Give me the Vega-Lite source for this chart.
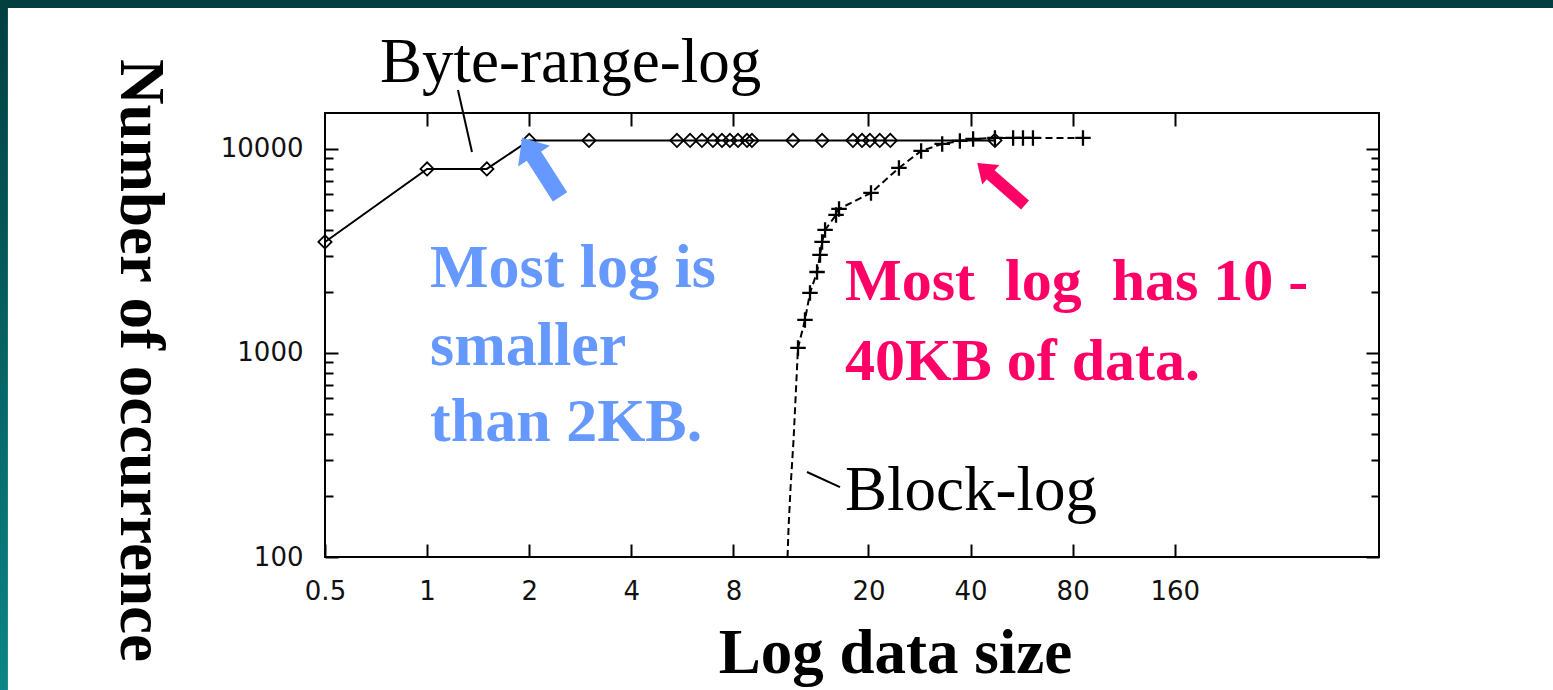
{
  "$schema": "https://vega.github.io/schema/vega-lite/v6.json",
  "width": 1054,
  "height": 444,
  "autosize": {"type": "none"},
  "padding": {"left": 325, "top": 113, "right": 174, "bottom": 133},
  "background": "white",
  "view": {"stroke": "black", "strokeWidth": 2, "fill": null},
  "resolve": {"axis": {"x": "independent", "y": "independent"}},
  "datasets": {
    "byte": [
      {"size": 0.5, "count": 3500}, {"size": 1, "count": 7980}, {"size": 1.5, "count": 7980},
      {"size": 2, "count": 11000}, {"size": 3, "count": 11000}, {"size": 5.45, "count": 11000},
      {"size": 5.96, "count": 11000}, {"size": 6.46, "count": 11000}, {"size": 6.96, "count": 11000},
      {"size": 7.4, "count": 11000}, {"size": 7.81, "count": 11000}, {"size": 8.25, "count": 11000},
      {"size": 8.77, "count": 11000}, {"size": 9.07, "count": 11000}, {"size": 11.98, "count": 11000},
      {"size": 14.6, "count": 11000}, {"size": 18.0, "count": 11000}, {"size": 19.15, "count": 11000},
      {"size": 20.2, "count": 11000}, {"size": 21.6, "count": 11000}, {"size": 23.2, "count": 11000},
      {"size": 47.2, "count": 11000}
    ],
    "block": [
      {"size": 11.55, "count": 100}, {"size": 11.63, "count": 140}, {"size": 11.79, "count": 220},
      {"size": 12.03, "count": 375}, {"size": 12.36, "count": 955}, {"size": 12.4, "count": 1058},
      {"size": 13.0, "count": 1452}, {"size": 13.45, "count": 1968}, {"size": 14.11, "count": 2494},
      {"size": 14.4, "count": 3023}, {"size": 14.6, "count": 3500}, {"size": 14.9, "count": 4010},
      {"size": 16.05, "count": 4747}, {"size": 16.38, "count": 5081}, {"size": 20.35, "count": 6085},
      {"size": 24.6, "count": 8070}, {"size": 28.6, "count": 9777}, {"size": 33.0, "count": 10580},
      {"size": 37.2, "count": 10945}, {"size": 40.7, "count": 11190}, {"size": 47.2, "count": 11320},
      {"size": 53.4, "count": 11320}, {"size": 57.1, "count": 11320}, {"size": 61.1, "count": 11320},
      {"size": 85.8, "count": 11320}
    ]
  },
  "layer": [
    {
      "data": {"values": [{}]},
      "mark": {"type": "rect", "fill": "#023e40"},
      "encoding": {
        "x": {"datum": 0.04, "type": "quantitative", "scale": {"type": "log", "base": 2, "domain": [0.5, 640], "nice": false}, "axis": null},
        "x2": {"datum": 5000},
        "y": {"datum": 49100, "type": "quantitative", "scale": {"type": "log", "domain": [100, 15000], "nice": false}, "axis": null},
        "y2": {"datum": 10000000}
      }
    },
    {
      "data": {"values": [{}]},
      "mark": {"type": "rect", "fill": {"gradient": "linear", "x1": 0, "y1": 0, "x2": 0, "y2": 1, "stops": [{"offset": 0, "color": "#023e40"}, {"offset": 0.07, "color": "#023e40"}, {"offset": 1, "color": "#0b8686"}]}},
      "encoding": {
        "x": {"datum": 0.04, "type": "quantitative", "scale": {"type": "log", "base": 2, "domain": [0.5, 640], "nice": false}, "axis": null},
        "x2": {"datum": 0.0581},
        "y": {"datum": 20, "type": "quantitative", "scale": {"type": "log", "domain": [100, 15000], "nice": false}, "axis": null},
        "y2": {"datum": 100000}
      }
    },
    {
      "data": {"name": "byte"},
      "mark": {"type": "line", "color": "black", "strokeWidth": 2},
      "encoding": {
        "x": {"field": "size", "type": "quantitative", "scale": {"type": "log", "base": 2, "domain": [0.5, 640], "nice": false},
          "axis": {"orient": "bottom", "values": [0.5, 1, 2, 4, 8, 20, 40, 80, 160], "labelExpr": "'' + datum.value", "offset": -13, "tickSize": 13, "tickWidth": 2, "tickColor": "black", "domain": false, "grid": false, "labelPadding": 21, "labelFont": "DejaVu Sans", "labelFontSize": 26, "labelColor": "#111", "labelFlush": false, "labelOverlap": false,
            "title": "Log data size", "titleFont": "Liberation Serif", "titleFontWeight": "bold", "titleFontSize": 63, "titleColor": "black", "titleX": 570, "titleY": 128, "titleAlign": "center", "titleBaseline": "alphabetic"}},
        "y": {"field": "count", "type": "quantitative", "scale": {"type": "log", "domain": [100, 15000], "nice": false},
          "axis": {"orient": "left", "values": [100, 1000, 10000], "labelExpr": "'' + datum.value", "offset": -13, "tickSize": 13, "tickWidth": 2, "tickColor": "black", "domain": false, "grid": false, "labelPadding": 22, "labelFont": "DejaVu Sans", "labelFontSize": 26, "labelColor": "#111", "labelFlush": false, "labelOverlap": false,
            "title": "Number of occurrence", "titleFont": "Liberation Serif", "titleFontWeight": "bold", "titleFontSize": 63, "titleColor": "black", "titleAngle": 90, "titleX": -199, "titleY": 247, "titleAlign": "center", "titleBaseline": "middle"}}
      }
    },
    {
      "data": {"name": "byte"},
      "mark": {"type": "point", "shape": "diamond", "filled": false, "color": "black", "size": 175, "strokeWidth": 1.8, "opacity": 1},
      "encoding": {
        "x": {"field": "size", "type": "quantitative", "scale": {"type": "log", "base": 2, "domain": [0.5, 640], "nice": false},
          "axis": {"orient": "top", "values": [1, 2, 4, 8, 20, 40, 80, 160], "labels": false, "offset": -13, "tickSize": 13, "tickWidth": 2, "tickColor": "black", "domain": false, "grid": false, "title": null}},
        "y": {"field": "count", "type": "quantitative", "scale": {"type": "log", "domain": [100, 15000], "nice": false},
          "axis": {"orient": "left", "values": [200, 300, 400, 500, 600, 700, 800, 900, 2000, 3000, 4000, 5000, 6000, 7000, 8000, 9000], "labels": false, "offset": -8, "tickSize": 8, "tickWidth": 2, "tickColor": "black", "domain": false, "grid": false, "title": null}}
      }
    },
    {
      "data": {"name": "block"},
      "mark": {"type": "line", "color": "black", "strokeWidth": 2, "strokeDash": [7, 4]},
      "encoding": {
        "x": {"field": "size", "type": "quantitative", "scale": {"type": "log", "base": 2, "domain": [0.5, 640], "nice": false}, "axis": null},
        "y": {"field": "count", "type": "quantitative", "scale": {"type": "log", "domain": [100, 15000], "nice": false},
          "axis": {"orient": "right", "values": [100, 1000, 10000], "labels": false, "offset": -13, "tickSize": 13, "tickWidth": 2, "tickColor": "black", "domain": false, "grid": false, "title": null}}
      }
    },
    {
      "data": {"name": "block"},
      "transform": [{"filter": "datum.count >= 1000"}],
      "mark": {"type": "point", "shape": "M-1,0H1M0,-1V1", "filled": false, "color": "black", "size": 240, "strokeWidth": 2.3, "opacity": 1},
      "encoding": {
        "x": {"field": "size", "type": "quantitative", "scale": {"type": "log", "base": 2, "domain": [0.5, 640], "nice": false}, "axis": null},
        "y": {"field": "count", "type": "quantitative", "scale": {"type": "log", "domain": [100, 15000], "nice": false},
          "axis": {"orient": "right", "values": [200, 300, 400, 500, 600, 700, 800, 900, 2000, 3000, 4000, 5000, 6000, 7000, 8000, 9000], "labels": false, "offset": -8, "tickSize": 8, "tickWidth": 2, "tickColor": "black", "domain": false, "grid": false, "title": null}}
      }
    },
    {
      "data": {"values": [
        {"x1": 1.233, "y1": 19460, "x2": 1.356, "y2": 9667},
        {"x1": 13.18, "y1": 261, "x2": 16.49, "y2": 220}
      ]},
      "mark": {"type": "rule", "color": "black", "strokeWidth": 2},
      "encoding": {
        "x": {"field": "x1", "type": "quantitative", "scale": {"type": "log", "base": 2, "domain": [0.5, 640], "nice": false}, "axis": null},
        "x2": {"field": "x2"},
        "y": {"field": "y1", "type": "quantitative", "scale": {"type": "log", "domain": [100, 15000], "nice": false}, "axis": null},
        "y2": {"field": "y2"}
      }
    },
    {
      "data": {"values": [
        {"x": 0.726, "y": 21300, "label": "Byte-range-log"},
        {"x": 17.06, "y": 170.1, "label": "Block-log"}
      ]},
      "mark": {"type": "text", "align": "left", "baseline": "alphabetic", "font": "Liberation Serif", "fontSize": 63, "color": "black"},
      "encoding": {
        "x": {"field": "x", "type": "quantitative", "scale": {"type": "log", "base": 2, "domain": [0.5, 640], "nice": false}, "axis": null},
        "y": {"field": "y", "type": "quantitative", "scale": {"type": "log", "domain": [100, 15000], "nice": false}, "axis": null},
        "text": {"field": "label"}
      }
    },
    {
      "data": {"values": [
        {"x": 1.02, "y": 2106, "label": "Most log is"},
        {"x": 1.02, "y": 873.7, "label": "smaller"},
        {"x": 1.02, "y": 370.6, "label": "than 2KB."}
      ]},
      "mark": {"type": "text", "align": "left", "baseline": "alphabetic", "font": "Liberation Serif", "fontWeight": "bold", "fontSize": 62, "color": "#6699ff"},
      "encoding": {
        "x": {"field": "x", "type": "quantitative", "scale": {"type": "log", "base": 2, "domain": [0.5, 640], "nice": false}, "axis": null},
        "y": {"field": "y", "type": "quantitative", "scale": {"type": "log", "domain": [100, 15000], "nice": false}, "axis": null},
        "text": {"field": "label"}
      }
    },
    {
      "data": {"values": [
        {"x": 17.06, "y": 1819, "label": "Most\u00a0 log\u00a0 has 10 -"},
        {"x": 17.06, "y": 737.7, "label": "40KB of data."}
      ]},
      "mark": {"type": "text", "align": "left", "baseline": "alphabetic", "font": "Liberation Serif", "fontWeight": "bold", "fontSize": 60, "color": "#ff0066"},
      "encoding": {
        "x": {"field": "x", "type": "quantitative", "scale": {"type": "log", "base": 2, "domain": [0.5, 640], "nice": false}, "axis": null},
        "y": {"field": "y", "type": "quantitative", "scale": {"type": "log", "domain": [100, 15000], "nice": false}, "axis": null},
        "text": {"field": "label"}
      }
    },
    {
      "data": {"values": [{"x1": 2.465, "y1": 5818, "x2": 1.984, "y2": 10228}]},
      "mark": {"type": "rule", "color": "#6699ff", "strokeWidth": 17, "strokeCap": "butt"},
      "encoding": {
        "x": {"field": "x1", "type": "quantitative", "scale": {"type": "log", "base": 2, "domain": [0.5, 640], "nice": false}, "axis": null},
        "x2": {"field": "x2"},
        "y": {"field": "y1", "type": "quantitative", "scale": {"type": "log", "domain": [100, 15000], "nice": false}, "axis": null},
        "y2": {"field": "y2"}
      }
    },
    {
      "data": {"values": [{"x": 1.984, "y": 10228}]},
      "mark": {"type": "point", "shape": "M0,-0.58L1,0.58L-1,0.58Z", "filled": true, "color": "#6699ff", "size": 1444, "angle": 327, "opacity": 1},
      "encoding": {
        "x": {"field": "x", "type": "quantitative", "scale": {"type": "log", "base": 2, "domain": [0.5, 640], "nice": false}, "axis": null},
        "y": {"field": "y", "type": "quantitative", "scale": {"type": "log", "domain": [100, 15000], "nice": false}, "axis": null}
      }
    },
    {
      "data": {"values": [{"x1": 57.9, "y1": 5315, "x2": 43.83, "y2": 7980}]},
      "mark": {"type": "rule", "color": "#ff0066", "strokeWidth": 12, "strokeCap": "butt"},
      "encoding": {
        "x": {"field": "x1", "type": "quantitative", "scale": {"type": "log", "base": 2, "domain": [0.5, 640], "nice": false}, "axis": null},
        "x2": {"field": "x2"},
        "y": {"field": "y1", "type": "quantitative", "scale": {"type": "log", "domain": [100, 15000], "nice": false}, "axis": null},
        "y2": {"field": "y2"}
      }
    },
    {
      "data": {"values": [{"x": 43.83, "y": 7980}]},
      "mark": {"type": "point", "shape": "M0,-0.69L1,0.69L-1,0.69Z", "filled": true, "color": "#ff0066", "size": 676, "angle": 311, "opacity": 1},
      "encoding": {
        "x": {"field": "x", "type": "quantitative", "scale": {"type": "log", "base": 2, "domain": [0.5, 640], "nice": false}, "axis": null},
        "y": {"field": "y", "type": "quantitative", "scale": {"type": "log", "domain": [100, 15000], "nice": false}, "axis": null}
      }
    }
  ]
}
